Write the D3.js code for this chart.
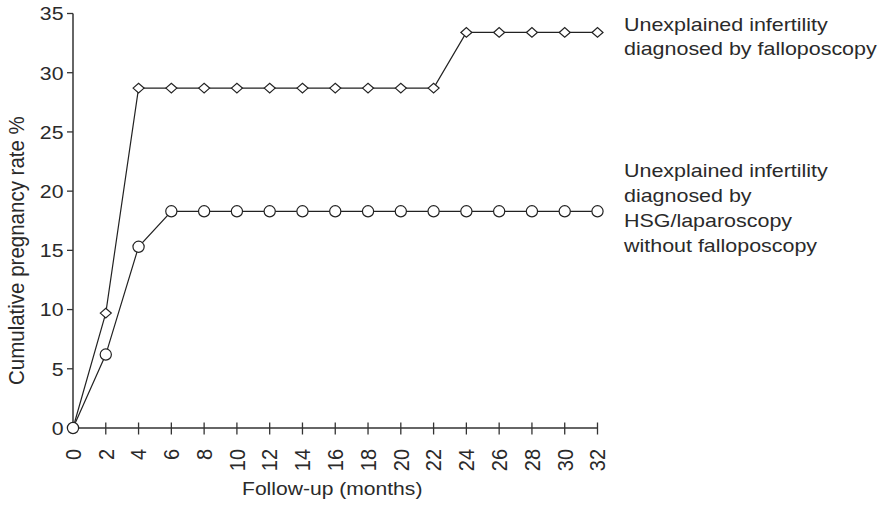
<!DOCTYPE html>
<html>
<head>
<meta charset="utf-8">
<script src="https://cdn.jsdelivr.net/npm/d3@7"></script>
<style>
  html, body { margin: 0; padding: 0; background: #fff; }
  svg { display: block; font-family: "Liberation Sans", Arial, Helvetica, sans-serif; }
</style>
</head>
<body>
<svg id="chart" width="881" height="505"></svg>
<script>
// ---- data ----
const months = [0, 2, 4, 6, 8, 10, 12, 14, 16, 18, 20, 22, 24, 26, 28, 30, 32];
const falloposcopyRate = [0, 9.7, 28.7, 28.7, 28.7, 28.7, 28.7, 28.7, 28.7, 28.7, 28.7, 28.7, 33.4, 33.4, 33.4, 33.4, 33.4];
const hsgRate = [0, 6.2, 15.3, 18.3, 18.3, 18.3, 18.3, 18.3, 18.3, 18.3, 18.3, 18.3, 18.3, 18.3, 18.3, 18.3, 18.3];
const yTicks = [0, 5, 10, 15, 20, 25, 30, 35];
const xTicks = [0, 2, 4, 6, 8, 10, 12, 14, 16, 18, 20, 22, 24, 26, 28, 30, 32];
const labelFalloposcopy = ["Unexplained infertility", "diagnosed by falloposcopy"];
const labelHsg = ["Unexplained infertility", "diagnosed by", "HSG/laparoscopy", "without falloposcopy"];
const xTitle = "Follow-up (months)";
const yTitle = "Cumulative pregnancy rate %";

// ---- layout ----
const svg = d3.select("#chart");
const ink = "#222";
const textInk = "#2a2a2a";
const axisInk = "#333";
const x = d3.scaleLinear().domain([0, 32]).range([73, 597.5]);
const y = d3.scaleLinear().domain([0, 35]).range([428, 13.5]);

function hText(g, tx, ty, str, size, anchor, sx) {
  return g.append("text")
    .attr("transform", `translate(${tx},${ty}) scale(${sx},1)`)
    .attr("text-anchor", anchor)
    .attr("font-size", size)
    .attr("fill", textInk)
    .text(str);
}

// axes
const axes = svg.append("g");
axes.append("line").attr("x1", x(0)).attr("x2", x(0)).attr("y1", y(35)).attr("y2", y(0))
  .attr("stroke", axisInk).attr("stroke-width", 1.5);
axes.append("line").attr("x1", x(0)).attr("x2", x(32)).attr("y1", y(0)).attr("y2", y(0))
  .attr("stroke", axisInk).attr("stroke-width", 1.5);

// y ticks
yTicks.forEach(v => {
  axes.append("line").attr("x1", x(0) - 6).attr("x2", x(0)).attr("y1", y(v)).attr("y2", y(v))
    .attr("stroke", axisInk).attr("stroke-width", 1.3);
  hText(axes, x(0) - 9.5, y(v), String(v), 19, "end", 1.12).attr("dy", "0.36em");
});

// x ticks
xTicks.forEach(v => {
  if (v !== 0) {
    axes.append("line").attr("x1", x(v)).attr("x2", x(v)).attr("y1", y(0) - 5.5).attr("y2", y(0) + 6.5)
      .attr("stroke", axisInk).attr("stroke-width", 1.3);
  }
  axes.append("text")
    .attr("transform", `translate(${x(v)},449) scale(1.08,1) rotate(-90)`)
    .attr("text-anchor", "end")
    .attr("dy", "0.36em")
    .attr("font-size", 20)
    .attr("fill", textInk)
    .text(v);
});

// titles
hText(svg, 242, 495, xTitle, 18.5, "start", 1.14);
svg.append("text")
  .attr("transform", `translate(24,385) scale(1.08,1) rotate(-90)`)
  .attr("text-anchor", "start")
  .attr("font-size", 20.5)
  .attr("fill", textInk)
  .text(yTitle);

// series
const line = d3.line().x(d => x(d[0])).y(d => y(d[1]));
const fData = months.map((m, i) => [m, falloposcopyRate[i]]);
const hData = months.map((m, i) => [m, hsgRate[i]]);

svg.append("path").attr("d", line(fData)).attr("fill", "none").attr("stroke", ink).attr("stroke-width", 1.2);
svg.append("path").attr("d", line(hData)).attr("fill", "none").attr("stroke", ink).attr("stroke-width", 1.2);

const hw = 5.5, hh = 4.8;
svg.append("g").selectAll("path").data(fData).join("path")
  .attr("d", d => `M${x(d[0]) - hw},${y(d[1])} L${x(d[0])},${y(d[1]) - hh} L${x(d[0]) + hw},${y(d[1])} L${x(d[0])},${y(d[1]) + hh} Z`)
  .attr("fill", "#fff").attr("stroke", ink).attr("stroke-width", 1.2);

svg.append("g").selectAll("circle").data(hData).join("circle")
  .attr("cx", d => x(d[0])).attr("cy", d => y(d[1])).attr("r", 5.6)
  .attr("fill", "#fff").attr("stroke", ink).attr("stroke-width", 1.2);

// series labels
labelFalloposcopy.forEach((s, i) => hText(svg, 624, 30.7 + i * 24.5, s, 18.5, "start", 1.16));
labelHsg.forEach((s, i) => hText(svg, 624, 176.7 + i * 25.2, s, 18.5, "start", 1.16));
</script>
</body>
</html>
